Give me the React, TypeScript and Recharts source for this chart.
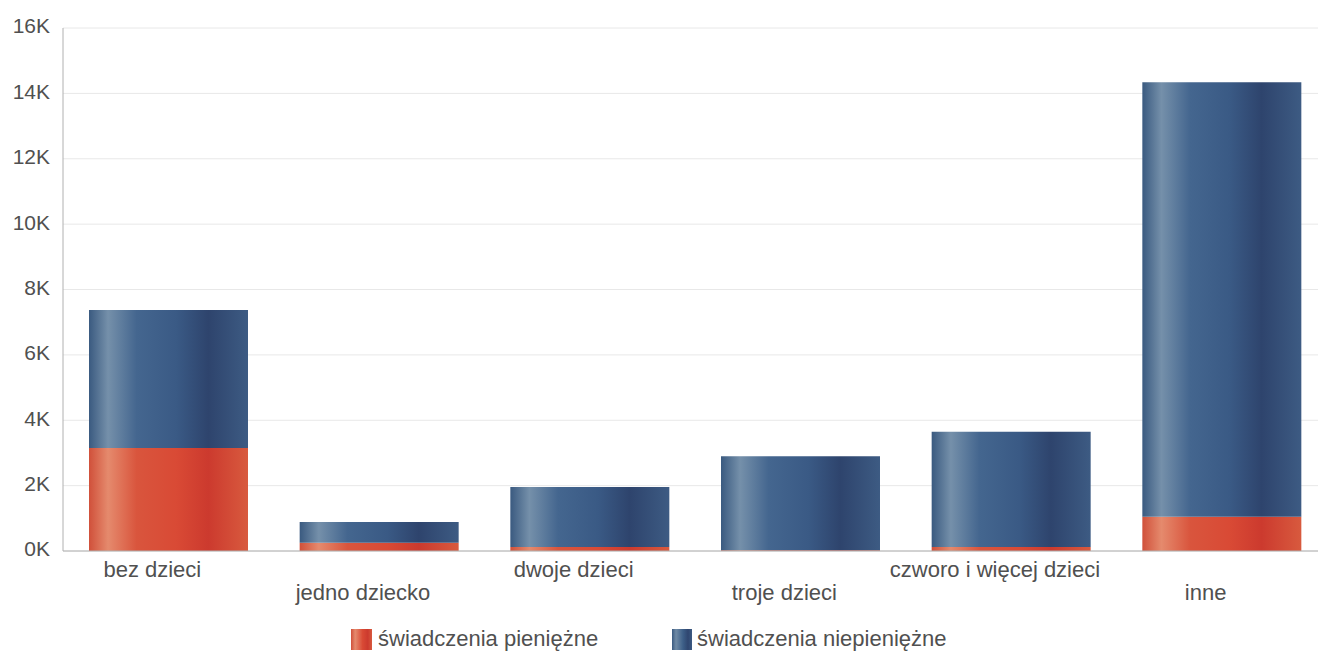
import { BarChart, Bar, XAxis, YAxis, CartesianGrid, Legend } from "recharts";

const categories = ["bez dzieci", "jedno dziecko", "dwoje dzieci", "troje dzieci", "czworo i więcej dzieci", "inne"];
const pieniezne = [3150, 250, 120, 20, 120, 1050];
const niepieniezne = [4220, 640, 1840, 2880, 3530, 13290];
const yTicks = [0, 2000, 4000, 6000, 8000, 10000, 12000, 14000, 16000];

const data = categories.map((name, i) => ({
  name,
  pieniezne: pieniezne[i],
  niepieniezne: niepieniezne[i],
}));

const FONT = "'Liberation Sans', Arial, sans-serif";
const TEXT = "#505050";

// eslint-disable-next-line @typescript-eslint/no-explicit-any
const CategoryTick = (props: any) => {
  const { x, y, payload, index } = props;
  return (
    <text
      x={x - 16}
      y={y}
      dy={index % 2 ? 41 : 18}
      textAnchor="middle"
      fill={TEXT}
      fontSize={22}
      fontFamily={FONT}
    >
      {payload.value}
    </text>
  );
};

const LegendBox = () => (
  <div style={{ position: "relative", height: 34, fontFamily: FONT, fontSize: 22, color: TEXT }}>
    <div style={{ position: "absolute", left: 351, top: 9, display: "flex", alignItems: "center" }}>
      <span style={{ width: 21, height: 21, background: "linear-gradient(90deg,#d0503a,#e58a6d 20%,#d94a35 55%,#cc3a2e 80%,#d85a3e)", marginRight: 6 }} />
      świadczenia pieniężne
    </div>
    <div style={{ position: "absolute", left: 672, top: 9, display: "flex", alignItems: "center" }}>
      <span style={{ width: 20, height: 21, background: "linear-gradient(90deg,#3a5a80,#6f8aa5 20%,#3d5f88 55%,#2f4670 80%,#3c5a82)", marginRight: 5 }} />
      świadczenia niepieniężne
    </div>
  </div>
);

export default function App() {
  return (
    <div style={{ position: "fixed", left: 0, top: 0, width: 1318, height: 651, overflow: "hidden", background: "#fff" }}>
      <BarChart
        width={1330}
        height={651}
        data={data}
        margin={{ top: 28, right: 3, left: 0, bottom: 0 }}
        barSize={159}
      >
        <defs>
          <linearGradient id="gradRed" x1="0" y1="0" x2="1" y2="0">
            <stop offset="0%" stopColor="#d0503a" />
            <stop offset="12%" stopColor="#e58a6d" />
            <stop offset="30%" stopColor="#d9553d" />
            <stop offset="55%" stopColor="#d94a35" />
            <stop offset="75%" stopColor="#cc3a2e" />
            <stop offset="100%" stopColor="#d85a3e" />
          </linearGradient>
          <linearGradient id="gradBlue" x1="0" y1="0" x2="1" y2="0">
            <stop offset="0%" stopColor="#3a5a80" />
            <stop offset="12%" stopColor="#7590aa" />
            <stop offset="30%" stopColor="#44668f" />
            <stop offset="55%" stopColor="#3a5a85" />
            <stop offset="75%" stopColor="#2e446d" />
            <stop offset="100%" stopColor="#3d5b83" />
          </linearGradient>
        </defs>
        <CartesianGrid vertical={false} stroke="#e8e8e8" />
        <XAxis
          dataKey="name"
          interval={0}
          height={66}
          tickLine={false}
          axisLine={{ stroke: "#b0b0b0" }}
          tick={<CategoryTick />}
        />
        <YAxis
          width={63}
          domain={[0, 16000]}
          ticks={yTicks}
          tickFormatter={(v: number) => `${v / 1000}K`}
          tickLine={false}
          tickMargin={7}
          axisLine={{ stroke: "#b0b0b0" }}
          tick={{ fill: TEXT, fontSize: 21, fontFamily: FONT, dy: -2 }}
        />
        <Legend verticalAlign="bottom" content={<LegendBox />} />
        <Bar dataKey="pieniezne" name="świadczenia pieniężne" stackId="a" fill="url(#gradRed)" isAnimationActive={false} />
        <Bar dataKey="niepieniezne" name="świadczenia niepieniężne" stackId="a" fill="url(#gradBlue)" isAnimationActive={false} />
      </BarChart>
    </div>
  );
}
